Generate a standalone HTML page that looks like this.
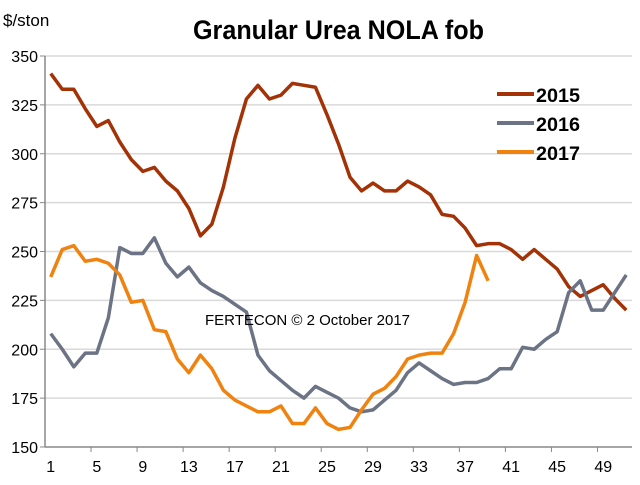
<!DOCTYPE html>
<html><head><meta charset="utf-8"><style>
body{margin:0;background:#fff;font-family:"Liberation Sans",sans-serif}
</style></head><body>
<svg id="c" width="640" height="480" xmlns="http://www.w3.org/2000/svg">
<text x="193" y="39" font-size="27" font-weight="bold" textLength="291" lengthAdjust="spacingAndGlyphs">Granular Urea NOLA fob</text>
<text x="3" y="26" font-size="17">$/ston</text>
<g id="grid"></g><g id="series"></g><g id="axes"></g>
<text x="205" y="325" font-size="15" fill="#000">FERTECON ©  2 October 2017</text>
<g>
<line x1="497" y1="94" x2="534" y2="94" stroke="#a33206" stroke-width="4"/>
<text x="536" y="102" font-size="19" font-weight="bold" textLength="44" lengthAdjust="spacingAndGlyphs">2015</text>
<line x1="497" y1="123" x2="534" y2="123" stroke="#6b7385" stroke-width="4"/>
<text x="536" y="131" font-size="19" font-weight="bold" textLength="44" lengthAdjust="spacingAndGlyphs">2016</text>
<line x1="497" y1="152" x2="534" y2="152" stroke="#f0820f" stroke-width="4"/>
<text x="536" y="160" font-size="19" font-weight="bold" textLength="44" lengthAdjust="spacingAndGlyphs">2017</text>
</g>
</svg>
<script>
const yTicks=[150,175,200,225,250,275,300,325,350];
const xTickLabels=[1,5,9,13,17,21,25,29,33,37,41,45,49];
const s2015=[341,333,333,323,314,317,306,297,291,293,286,281,272,258,264,283,308,328,335,328,330,336,335,334,320,305,288,281,285,281,281,286,283,279,269,268,262,253,254,254,251,246,251,246,241,232,227,230,233,226,220];
const s2016=[208,200,191,198,198,216,252,249,249,257,244,237,242,234,230,227,223,219,197,189,184,179,175,181,178,175,170,168,169,174,179,188,193,189,185,182,183,183,185,190,190,201,200,205,209,229,235,220,220,229,238];
const s2017=[237,251,253,245,246,244,238,224,225,210,209,195,188,197,190,179,174,171,168,168,171,162,162,170,162,159,160,169,177,180,186,195,197,198,198,208,224,248,235];
const NS="http://www.w3.org/2000/svg";
const x0=45,x1=632,yTop=56,yBot=447,nCat=51;
const w=(x1-x0)/nCat;
const X=i=>x0+(i+0.5)*w;
const Y=v=>yBot-(v-150)/200*(yBot-yTop);
function mk(tag,attrs,parent){const e=document.createElementNS(NS,tag);for(const k in attrs)e.setAttribute(k,attrs[k]);parent.appendChild(e);return e;}
const grid=document.getElementById('grid'),axes=document.getElementById('axes'),ser=document.getElementById('series');
yTicks.forEach(v=>{
 if(v>150){const g=mk('line',{x1:x0,x2:x1,y1:Y(v),y2:Y(v),stroke:'#d9d9d9','stroke-width':1.5},grid);
 
 }
 const t=mk('text',{x:x0-7,y:Y(v)+6,'text-anchor':'end','font-size':16},axes);t.textContent=v;
 
 
 mk('line',{x1:x0-5,x2:x0,y1:Y(v),y2:Y(v),stroke:'#888'},axes);
});
const ya=mk('line',{x1:x0,x2:x0,y1:yTop,y2:yBot,stroke:'#888','stroke-width':1.5},axes);


const xa=mk('line',{x1:x0,x2:x1,y1:yBot,y2:yBot,stroke:'#888','stroke-width':1.5},axes);


xTickLabels.forEach(n=>{
 if(n>1)mk('line',{x1:x0+(n-1)*w,x2:x0+(n-1)*w,y1:yBot,y2:yBot+5,stroke:'#888'},axes);
 const t=mk('text',{x:X(n-1),y:yBot+25,'text-anchor':'middle','font-size':16},axes);t.textContent=n;
 
 
});
[[s2015,'#a33206','2015'],[s2016,'#6b7385','2016'],[s2017,'#f0820f','2017']].forEach(([d,c,n])=>{
 const p=mk('polyline',{points:d.map((v,i)=>X(i)+','+Y(v)).join(' '),fill:'none',stroke:c,'stroke-width':3.5,'stroke-linejoin':'round'},ser);
 
 
});
</script>
</body></html>
